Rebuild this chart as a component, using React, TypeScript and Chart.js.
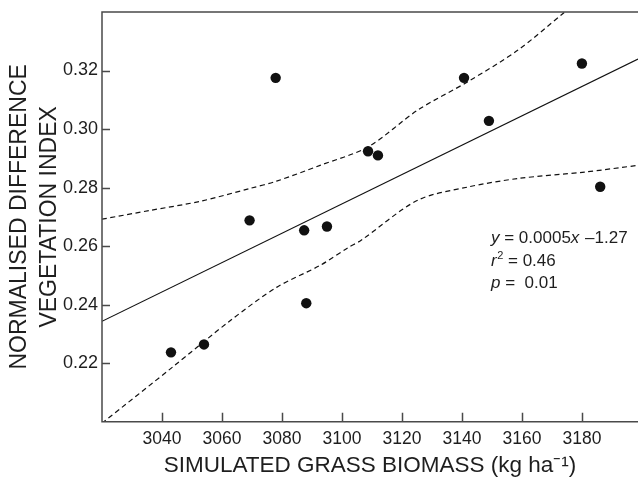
import React, { useEffect, useRef } from 'react';
import { Chart, registerables } from 'chart.js';

Chart.register(...registerables);

// Observations
const biomass = [3043, 3054, 3069.2, 3077.9, 3087.4, 3088.1, 3095, 3108.7, 3112, 3140.7, 3149, 3180, 3186.1];
const ndvi = [0.2237, 0.2264, 0.2688, 0.3175, 0.2654, 0.2405, 0.2667, 0.2924, 0.291, 0.3175, 0.3028, 0.3224, 0.2803];

// Regression line
const fitX = [3020, 3198.7];
const fitY = [0.2343, 0.3239];

// Confidence bands
const upperX = [3020, 3036, 3052.7, 3069.3, 3078.2, 3092.7, 3108.7, 3125.3, 3142, 3158.7, 3173.7, 3186];
const upperY = [0.2692, 0.2722, 0.2753, 0.2797, 0.2822, 0.2876, 0.2939, 0.3065, 0.3162, 0.327, 0.3395, 0.3497];
const lowerX = [3020, 3043.7, 3062.7, 3078.2, 3092.7, 3102.1, 3106.4, 3125.3, 3142, 3158.7, 3180.9, 3198.7];
const lowerY = [0.1995, 0.2188, 0.2345, 0.2459, 0.2534, 0.2595, 0.262, 0.2757, 0.2802, 0.2831, 0.2853, 0.2876];

// Axes
const xTicks = [3040, 3060, 3080, 3100, 3120, 3140, 3160, 3180];
const yTicks = [0.22, 0.24, 0.26, 0.28, 0.3, 0.32];
const xRange = [3020, 3198.7];
const yRange = [0.2, 0.34];

const xTitle = 'SIMULATED GRASS BIOMASS (kg ha\u207B\u00B9)';
const yTitle = ['NORMALISED DIFFERENCE', 'VEGETATION INDEX'];

const FONT = '"Liberation Sans", Arial, Helvetica, sans-serif';
const INK = '#1e1e1e';
const AXIS = '#4a4a4a';

const zip = (xs: number[], ys: number[]) => xs.map((x, i) => ({ x, y: ys[i] }));

const framePlugin = {
  id: 'frame',
  afterDraw(chart: any) {
    const { ctx, chartArea: a, scales } = chart;
    ctx.save();
    ctx.strokeStyle = AXIS;
    ctx.lineWidth = 1.5;
    ctx.beginPath();
    ctx.moveTo(a.right, a.top);
    ctx.lineTo(a.left, a.top);
    ctx.lineTo(a.left, a.bottom);
    ctx.lineTo(a.right, a.bottom);
    xTicks.forEach((v) => {
      const px = Math.round(scales.x.getPixelForValue(v)) + 0.5;
      ctx.moveTo(px, a.bottom);
      ctx.lineTo(px, a.bottom - 9);
    });
    yTicks.forEach((v) => {
      const py = Math.round(scales.y.getPixelForValue(v)) + 0.5;
      ctx.moveTo(a.left, py);
      ctx.lineTo(a.left + 8, py);
    });
    ctx.stroke();

    // Annotation
    const size = 17;
    const x0 = a.left + 389;
    const base1 = a.top + 231;
    const pitch = 22.5;
    ctx.fillStyle = INK;
    ctx.textBaseline = 'alphabetic';
    ctx.textAlign = 'left';
    const put = (txt: string, x: number, y: number, italic = false, s = size) => {
      ctx.font = `${italic ? 'italic ' : ''}${s}px ${FONT}`;
      ctx.fillText(txt, x, y);
      return x + ctx.measureText(txt).width;
    };
    let x = put('y', x0, base1, true);
    x = put(' = 0.0005', x, base1);
    x = put('x', x, base1, true);
    put(' \u20131.27', x + 1, base1);

    const base2 = base1 + pitch;
    x = put('r', x0, base2, true);
    x = put('2', x + 0.5, base2 - 7, false, 11);
    put(' = 0.46', x, base2);

    const base3 = base2 + pitch;
    x = put('p', x0, base3, true);
    put(' =  0.01', x, base3);
    ctx.restore();
  },
};

export default function App() {
  const ref = useRef<HTMLCanvasElement | null>(null);

  useEffect(() => {
    if (!ref.current) return;
    const chart = new Chart(ref.current, {
      type: 'scatter',
      data: {
        datasets: [
          {
            label: 'obs',
            data: zip(biomass, ndvi),
            pointRadius: 5.2,
            pointBackgroundColor: '#111',
            pointBorderColor: '#111',
            pointBorderWidth: 0,
            showLine: false,
          },
          {
            label: 'fit',
            data: zip(fitX, fitY),
            showLine: true,
            borderColor: '#111',
            borderWidth: 1.1,
            pointRadius: 0,
          },
          {
            label: 'upper',
            data: zip(upperX, upperY),
            showLine: true,
            borderColor: '#111',
            borderWidth: 1.2,
            borderDash: [5, 3.5],
            tension: 0.3,
            pointRadius: 0,
          },
          {
            label: 'lower',
            data: zip(lowerX, lowerY),
            showLine: true,
            borderColor: '#111',
            borderWidth: 1.2,
            borderDash: [5, 3.5],
            tension: 0.3,
            pointRadius: 0,
          },
        ],
      },
      options: {
        animation: false,
        responsive: false,
        devicePixelRatio: 1,
        layout: { autoPadding: false, padding: { top: 12, right: 0, left: 0, bottom: 0 } },
        plugins: { legend: { display: false }, tooltip: { enabled: false } },
        scales: {
          x: {
            type: 'linear',
            min: xRange[0],
            max: xRange[1],
            grid: { display: false, drawTicks: false },
            border: { display: false },
            afterBuildTicks: (s: any) => {
              s.ticks = xTicks.map((v) => ({ value: v }));
            },
            afterFit: (s: any) => {
              s.height = 57.3;
              s.paddingLeft = 0;
              s.paddingRight = 0;
            },
            ticks: {
              padding: 7,
              color: INK,
              font: { family: FONT, size: 17.5 },
              callback: (v: any) => String(v),
            },
            title: {
              display: true,
              text: xTitle,
              color: INK,
              font: { family: FONT, size: 22.5, lineHeight: 1.2 },
              padding: { top: 0, bottom: 0 },
            },
          },
          y: {
            type: 'linear',
            min: yRange[0],
            max: yRange[1],
            grid: { display: false, drawTicks: false },
            border: { display: false },
            afterBuildTicks: (s: any) => {
              s.ticks = yTicks.map((v) => ({ value: v }));
            },
            afterFit: (s: any) => {
              s.width = 102;
              s.paddingTop = 0;
              s.paddingBottom = 0;
            },
            ticks: {
              padding: 4,
              color: INK,
              font: { family: FONT, size: 18 },
              callback: (v: any) => Number(v).toFixed(2),
            },
            title: {
              display: true,
              text: yTitle,
              color: INK,
              font: { family: FONT, size: 23, lineHeight: 1.3 },
              padding: { top: 5, bottom: 0 },
            },
          },
        },
      },
      plugins: [framePlugin],
    } as any);
    return () => chart.destroy();
  }, []);

  return (
    <div style={{ position: 'fixed', left: 0, top: 0, width: 638, height: 479, background: '#fff' }}>
      <canvas ref={ref} width={638} height={479} style={{ display: 'block' }} />
    </div>
  );
}
